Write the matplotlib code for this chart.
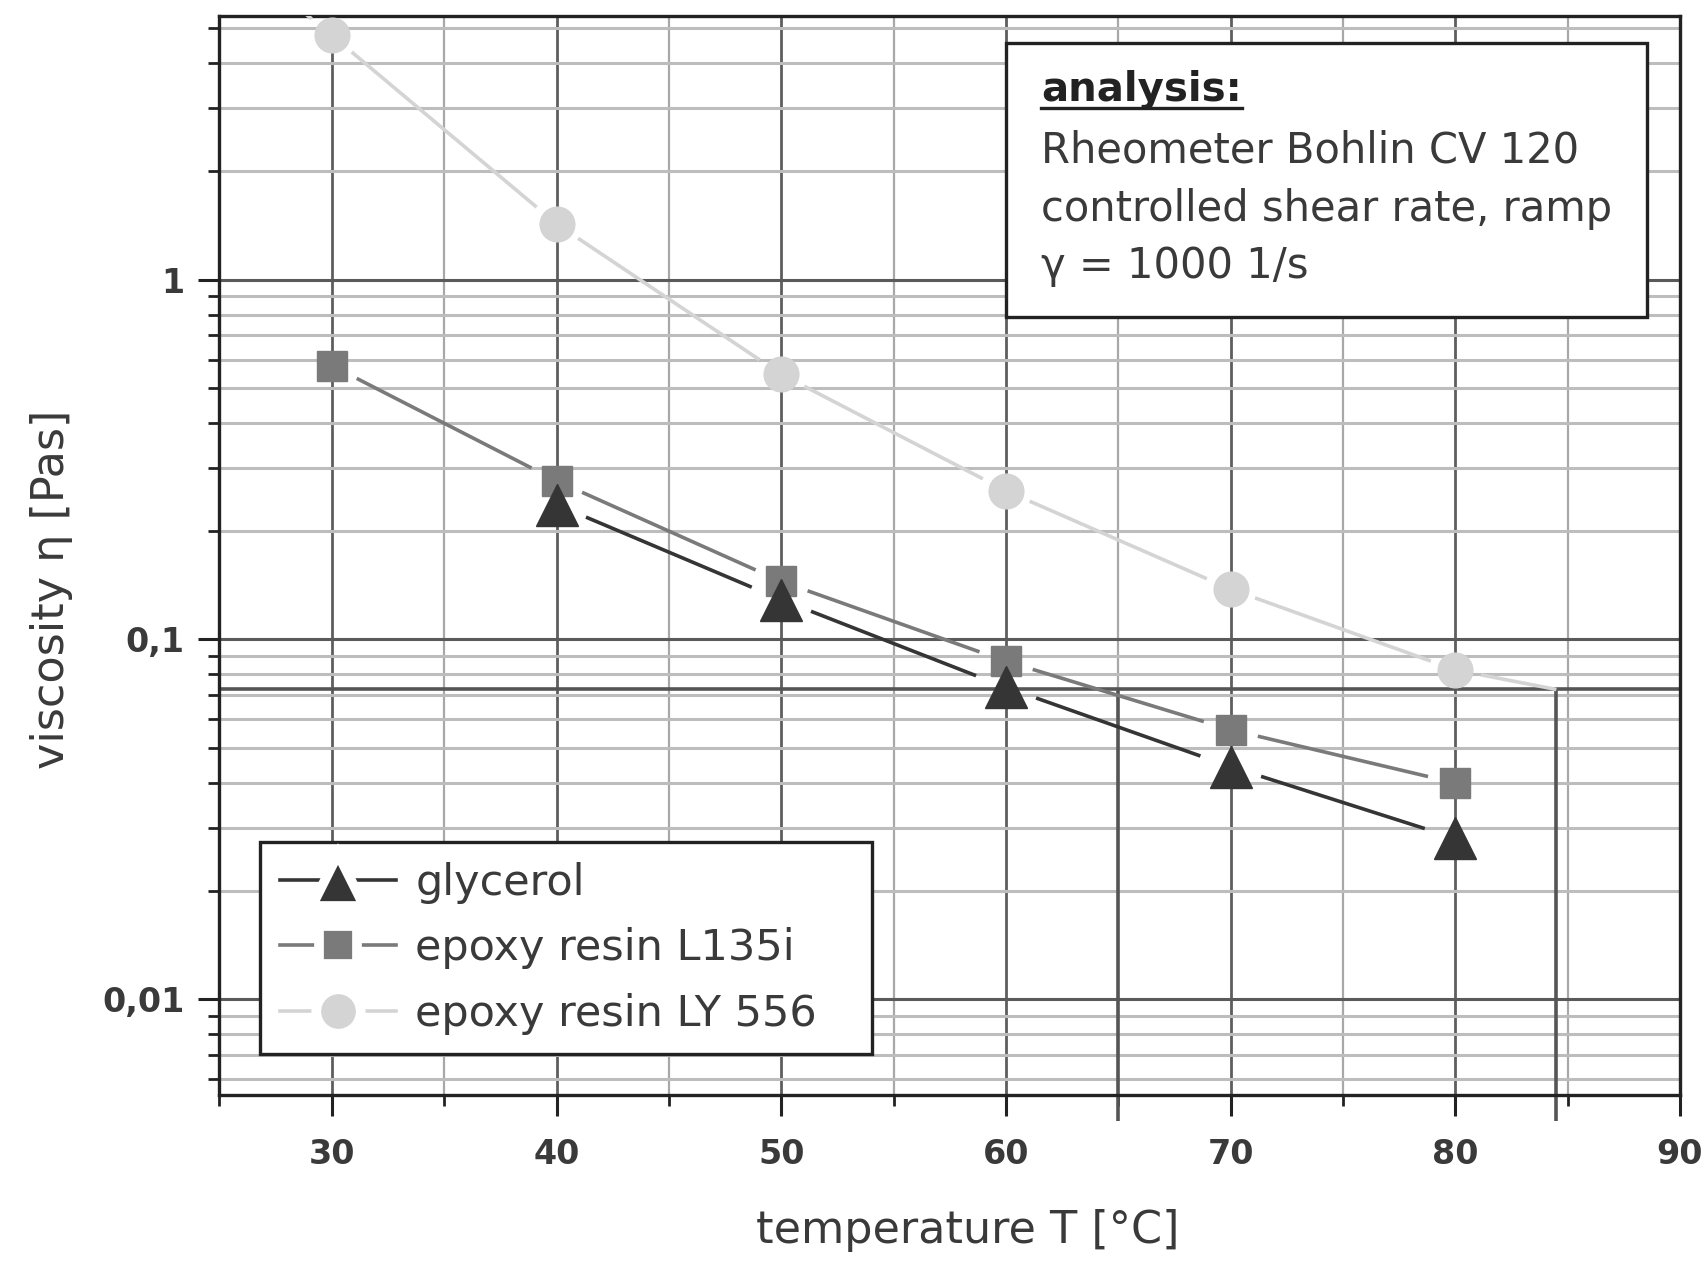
import numpy as np
import matplotlib.pyplot as plt
from matplotlib.ticker import FixedLocator, LogLocator, FuncFormatter, MultipleLocator, NullFormatter
from matplotlib.lines import Line2D
from matplotlib.patches import Rectangle

plt.rcParams['font.family'] = ['DejaVu Sans']

# measured viscosities [Pas] over temperature [°C]
temp_all = [30, 40, 50, 60, 70, 80]
temp_glycerol = [40, 50, 60, 70, 80]
eta_glycerol = [0.237, 0.129, 0.0736, 0.0443, 0.028]
eta_l135i = [0.577, 0.276, 0.145, 0.087, 0.0561, 0.0399]
eta_ly556 = [4.78, 1.43, 0.546, 0.259, 0.138, 0.0823]
# extrapolated ends of the LY 556 curve
ly556_start = (28.5, 5.7)
ly556_end = (84.5, 0.0726)

# processing window marked in the chart
limit_eta = 0.0726
limit_temps = [65, 84.5]

legend_labels = ['glycerol', 'epoxy resin L135i', 'epoxy resin LY 556']
info_title = 'analysis:'
info_lines = ['Rheometer Bohlin CV 120', 'controlled shear rate, ramp', 'γ = 1000 1/s']

c_gly = '#353535'
c_l135 = '#7a7a7a'
c_ly = '#d4d4d4'
c_text = '#3a3a3a'


# Viiva jossa pieni rako merkkien ympärillä
def gapped_line(ax, xs, ys, gaps, color, lw):
    trans = ax.transData
    inv = trans.inverted()
    pts = trans.transform(np.column_stack([xs, ys]))
    for i in range(len(pts) - 1):
        p0, p1 = pts[i], pts[i + 1]
        d = p1 - p0
        u = d / np.hypot(d[0], d[1])
        a = inv.transform(p0 + u * gaps[i])
        b = inv.transform(p1 - u * gaps[i + 1])
        ax.plot([a[0], b[0]], [a[1], b[1]], color=color, lw=lw, zorder=3,
                solid_capstyle='butt')


fig = plt.figure(figsize=(17.04, 12.61), dpi=100)
ax = fig.add_axes([0.1288, 0.1313, 0.8571, 0.8558])
ax.set_yscale('log')
ax.set_xlim(25, 90)
ax.set_ylim(0.0054, 5.4)

# akselit ja ruudukko
ax.xaxis.set_major_locator(MultipleLocator(10))
ax.xaxis.set_minor_locator(MultipleLocator(5))
ax.yaxis.set_major_locator(FixedLocator([0.01, 0.1, 1]))
ax.yaxis.set_minor_locator(LogLocator(base=10, subs=range(2, 10)))
ax.yaxis.set_minor_formatter(NullFormatter())
ax.yaxis.set_major_formatter(FuncFormatter(lambda v, p: f'{v:g}'.replace('.', ',')))

ax.grid(which='major', axis='x', color='#5e5e5e', lw=2.0, zorder=0)
ax.grid(which='minor', axis='x', color='#a8a8a8', lw=1.6, zorder=0)
ax.grid(which='major', axis='y', color='#5a5a5a', lw=2.2, zorder=0)
ax.grid(which='minor', axis='y', color='#bdbdbd', lw=2.2, zorder=0)
ax.set_axisbelow(True)

for s in ax.spines.values():
    s.set_linewidth(2.4)
    s.set_color('#222222')
ax.tick_params(which='major', axis='both', direction='out', length=15, width=2.2,
               color='#222222', labelsize=24, labelcolor=c_text)
ax.tick_params(which='minor', axis='both', direction='out', length=8, width=2.0,
               color='#222222')
ax.tick_params(axis='x', which='major', pad=16)
ax.tick_params(axis='y', which='major', pad=10)
for lab in ax.get_xticklabels() + ax.get_yticklabels():
    lab.set_fontweight('bold')

ax.set_xlabel('temperature T [°C]', fontsize=32, color=c_text)
ax.set_ylabel('viscosity η [Pas]', fontsize=32, color=c_text)
ax.xaxis.set_label_coords(0.512, -0.105)
ax.yaxis.set_label_coords(-0.10, 0.469)

# rajaviivat
ax.axhline(limit_eta, color='#555555', lw=2.6, zorder=2)
ylo = ax.get_ylim()[0] * 0.85
ax.vlines(limit_temps, ylo, limit_eta, color='#555555', lw=2.6, zorder=2, clip_on=False)

# mittaussarjat
gapped_line(ax, temp_glycerol, eta_glycerol, [32] * len(eta_glycerol), c_gly, 2.6)
gapped_line(ax, temp_all, eta_l135i, [28] * len(eta_l135i), c_l135, 2.6)
ly_t = [ly556_start[0]] + temp_all + [ly556_end[0]]
ly_e = [ly556_start[1]] + eta_ly556 + [ly556_end[1]]
gapped_line(ax, ly_t, ly_e, [0] + [26] * len(eta_ly556) + [0], c_ly, 2.6)

ax.plot(temp_glycerol, eta_glycerol, ls='none', marker='^', ms=30, color=c_gly, zorder=5)
ax.plot(temp_all, eta_l135i, ls='none', marker='s', ms=21, color=c_l135, zorder=4)
ax.plot(temp_all, eta_ly556, ls='none', marker='o', ms=25, color=c_ly, zorder=4)

# legendan merkeissä valkoinen reuna -> rako viivaan
handles = [
    Line2D([], [], color=c_gly, lw=2.6, marker='^', ms=38, mec='white', mew=7,
           mfc=c_gly),
    Line2D([], [], color=c_l135, lw=2.6, marker='s', ms=28, mec='white', mew=7,
           mfc=c_l135),
    Line2D([], [], color=c_ly, lw=2.6, marker='o', ms=32, mec='white', mew=7,
           mfc=c_ly),
]
leg = ax.legend(handles, legend_labels, loc='lower left',
                bbox_to_anchor=(0.028, 0.038, 0.419, 0.19), mode='expand',
                borderaxespad=0, fontsize=31, fancybox=False, framealpha=1,
                edgecolor='#222222', handlelength=2.7, handletextpad=0.45,
                labelspacing=0.55, borderpad=0.45, labelcolor=c_text)
leg.get_frame().set_linewidth(2.4)
leg.set_zorder(10)

# tietolaatikko
box = Rectangle((0.5385, 0.7214), 0.4389, 0.2539, transform=ax.transAxes,
                facecolor='white', edgecolor='#222222', lw=2.4, zorder=10)
ax.add_patch(box)
title = ax.text(0.5625, 0.9318, info_title, transform=ax.transAxes, fontsize=29,
                fontweight='bold', color='#222222', va='center', ha='left', zorder=11)
for i, line in enumerate(info_lines):
    ax.text(0.5625, [0.8752, 0.8215, 0.7687][i], line, transform=ax.transAxes,
            fontsize=30, color=c_text, va='center', ha='left', zorder=11)

fig.canvas.draw()
bb = title.get_window_extent().transformed(ax.transAxes.inverted())
ax.plot([bb.x0, bb.x1], [bb.y0 + 0.002, bb.y0 + 0.002], transform=ax.transAxes,
        color='#222222', lw=2.4, zorder=11)

fig.savefig('out.png', dpi=100)
